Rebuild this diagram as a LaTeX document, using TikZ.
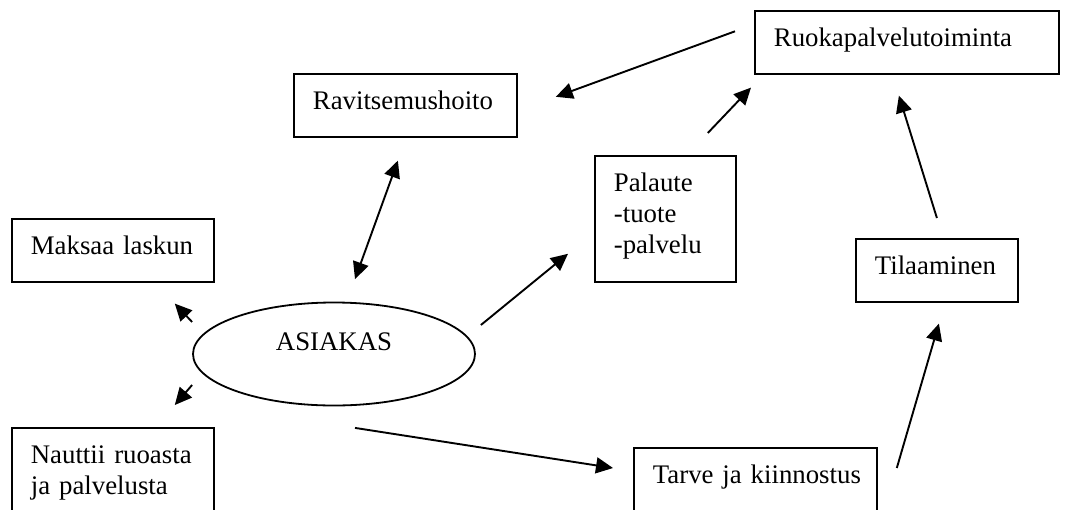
\documentclass[tikz,border=0pt]{standalone}
\usepackage{fontspec}
\setmainfont{Liberation Serif}
\usetikzlibrary{arrows.meta,shapes.geometric,calc}

\begin{document}
\begin{tikzpicture}[
  x=0.5pt,y=-0.5pt,
  box/.style={draw,line width=0.9pt,anchor=north west,align=left,
              inner xsep=9.5pt,inner ysep=9pt,text height=8.9pt,text depth=4.5pt,
              font=\fontsize{13.4}{15.4}\selectfont},
  oval/.style={ellipse,draw,line width=0.9pt,inner sep=0pt,
               minimum width=141pt,minimum height=51.5pt,
               text height=8.9pt,text depth=12pt,font=\fontsize{13.4}{15.4}\selectfont},
  arr/.style={-{Triangle[length=8.5pt,width=8pt]},line width=0.95pt},
  darr/.style={{Triangle[length=8.5pt,width=8pt]}-{Triangle[length=8.5pt,width=8pt]},line width=0.95pt}
]
\useasboundingbox (0,0) rectangle (1076,509);
\node[box,text width=92.5pt] (ravit) at (293,73) {Ravitsemushoito};
\node[box,text width=82pt] (maksaa) at (11,218) {\mbox{Maksaa laskun}};
\node[box,text width=133pt] (ruoka) at (754,10) {Ruokapalvelutoiminta};
\node[box,text width=51.5pt,text depth=36pt] (palaute) at (594,155) {Palaute\\-tuote\\-palvelu};
\node[box,text width=62pt] (tilaa) at (855,238) {Tilaaminen};
\node[box,text width=102.5pt,text depth=7pt] (tarve) at (633,447) {\mbox{Tarve ja kiinnostus}};
\node[box,text width=82pt,text depth=22pt] (nauttii) at (11,427) {\mbox{Nauttii ruoasta}\\\mbox{ja palvelusta}};
\node[oval] (asiakas) at (334,354) {ASIAKAS};

\draw[darr] ($(asiakas.north)+(21,-22.5)$) -- ($(ravit.south)+(-7.5,23)$);
\draw[arr] ($(ruoka.west)+(-19,-11)$) -- ($(ravit.east)+(38,-8.5)$);
\draw[arr] ($(palaute.north east)+(-29,-22)$) -- ($(ruoka.south west)+(-3,13)$);
\draw[arr] ($(tilaa.north)+(0,-20)$) -- ($(ruoka.south)+(-8,21)$);
\draw[arr] ($(asiakas.east)+(5,-29)$) -- ($(palaute.west)+(-26,35)$);
\draw[arr] ($(asiakas.west)+(0,-32)$) -- ($(maksaa.south east)+(-40,21)$);
\draw[arr] ($(asiakas.west)+(0,31)$) -- ($(nauttii.north east)+(-40,-22)$);
\draw[arr] ($(asiakas.south)+(21,21.5)$) -- ($(tarve.north west)+(-20,21)$);
\draw[arr] ($(tarve.north east)+(19,21)$) -- ($(tilaa.south)+(2,21)$);
\end{tikzpicture}
\end{document}
